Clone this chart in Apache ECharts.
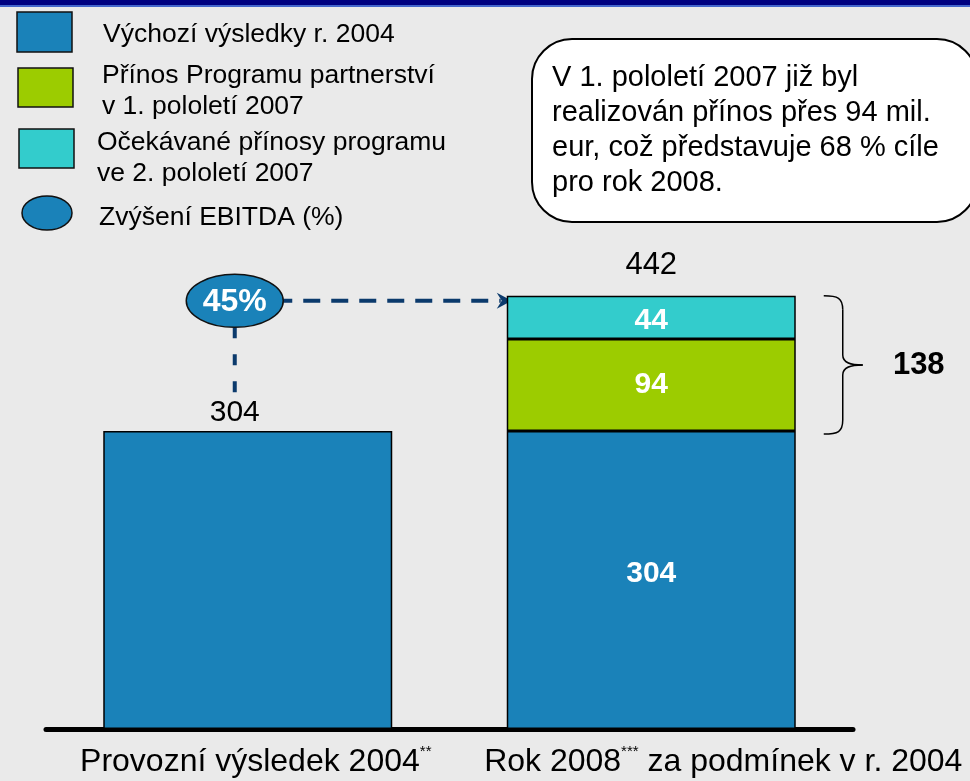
<!DOCTYPE html>
<html>
<head>
<meta charset="utf-8">
<script src="https://cdn.jsdelivr.net/npm/echarts@6/dist/echarts.min.js"></script>
<style>
    html, body { margin: 0; padding: 0; background: #eaeaea; }
    #chart { width: 970px; height: 781px; }
</style>
</head>
<body>
<div id="chart"></div>
<script>
// data
const categories = ['Provozní výsledek 2004**', 'Rok 2008*** za podmínek v r. 2004'];
const baseResult = [304, 304];
const gainFirstHalf = ['-', 94];
const gainSecondHalf = ['-', 44];
const ebitdaIncrease = 45;
const seriesNames = [
    'Výchozí výsledky r. 2004',
    'Přínos Programu partnerství\nv 1. pololetí 2007',
    'Očekávané přínosy programu\nve 2. pololetí 2007'
];
const ellipseLegend = 'Zvýšení EBITDA (%)';
const noteLines = [
    'V 1. pololetí 2007 již byl',
    'realizován přínos přes 94 mil.',
    'eur, což představuje 68 % cíle',
    'pro rok 2008.'
];

const colors = ['#1a82b9', '#9ccc00', '#33cccc'];
const navy = '#0b3a6c';
const font = '"Liberation Sans", Arial, sans-serif';
const barWidth = 289;

const totals = baseResult.map((v, i) =>
    [v, gainFirstHalf[i], gainSecondHalf[i]].reduce((s, x) => s + (x === '-' ? 0 : x), 0));
const totalGain = totals[1] - baseResult[1];

const chart = echarts.init(document.getElementById('chart'), null, {renderer: 'canvas'});

const valueLabel = (dy) => ({
    show: true,
    position: 'inside',
    offset: [0, dy],
    color: '#fff',
    fontWeight: 'bold',
    fontSize: 30,
    fontFamily: font
});
const barItem = (c) => ({color: c, borderColor: '#000', borderWidth: 1.5});

function axisLabelText(value, index) {
    let s = value.replace(/(\*+)/, '}{s|$1}{t|');
    s = '{t|' + s + '}';
    s = (index === 1 ? '{pad| }' : '{pad0| }') + s;
    return s;
}

chart.setOption({
    backgroundColor: '#eaeaea',
    animation: false,
    grid: {left: 46, right: 117, top: 239, bottom: 52},
    xAxis: {
        type: 'category',
        data: categories,
        axisLine: {lineStyle: {color: '#000', width: 5, cap: 'round'}},
        axisTick: {show: false},
        axisLabel: {
            interval: 0,
            margin: 15,
            formatter: axisLabelText,
            rich: {
                t: {fontSize: 32, fontFamily: font, color: '#000', lineHeight: 36},
                s: {fontSize: 15, fontFamily: font, color: '#000', verticalAlign: 'top', lineHeight: 12},
                pad: {width: 144, fontSize: 32},
                pad0: {width: 16, fontSize: 32}
            }
        }
    },
    yAxis: {
        type: 'value',
        min: 0,
        max: 500,
        show: false
    },
    series: [
        {
            name: seriesNames[0],
            type: 'bar',
            stack: 'total',
            barWidth: barWidth,
            itemStyle: barItem(colors[0]),
            data: baseResult.map((v, i) => i === 0 ? {
                value: v,
                label: {
                    show: true, position: 'top', distance: 3, offset: [-13, 0],
                    color: '#000', fontWeight: 'normal', fontSize: 30, fontFamily: font
                }
            } : {value: v, label: valueLabel(-6)})
        },
        {
            name: seriesNames[1],
            type: 'bar',
            stack: 'total',
            barWidth: barWidth,
            itemStyle: barItem(colors[1]),
            label: valueLabel(0),
            data: gainFirstHalf
        },
        {
            name: seriesNames[2],
            type: 'bar',
            stack: 'total',
            barWidth: barWidth,
            itemStyle: barItem(colors[2]),
            label: valueLabel(3),
            data: gainSecondHalf
        },
        {
            name: 'celkem',
            type: 'bar',
            stack: 'total',
            barWidth: barWidth,
            itemStyle: {color: 'transparent'},
            label: {
                show: true, position: 'top', distance: 15,
                color: '#000', fontSize: 31, fontFamily: font,
                formatter: p => totals[p.dataIndex]
            },
            data: ['-', 0]
        }
    ]
});

// overlay: legend, note, ellipse with dashed links, brace
const p0 = chart.convertToPixel({gridIndex: 0}, [0, totals[1]]);
const p1 = chart.convertToPixel({gridIndex: 0}, [1, totals[1]]);
const bar1Top = chart.convertToPixel({gridIndex: 0}, [0, baseResult[0]])[1];
const base2Top = chart.convertToPixel({gridIndex: 0}, [1, baseResult[1]])[1];

const cx = p0[0] - 13, cy = p0[1] + 5, rx = 48.5, ry = 26.5;
const bar2Left = p1[0] - barWidth / 2;
const bar2Right = p1[0] + barWidth / 2;

const bx0 = bar2Right + 28, bx1 = bx0 + 19, bx2 = bx0 + 39;
const byT = p1[1], byB = base2Top + 3, byM = (byT + byB) / 2;
const braceStyle = {stroke: '#000', lineWidth: 1.5, fill: null};
const braceParts = [
    {type: 'bezierCurve', shape: {x1: bx0, y1: byT, cpx1: bx0 + 14, cpy1: byT, cpx2: bx1, cpy2: byT + 2, x2: bx1, y2: byT + 14}},
    {type: 'line', shape: {x1: bx1, y1: byT + 14, x2: bx1, y2: byM - 10}},
    {type: 'bezierCurve', shape: {x1: bx1, y1: byM - 10, cpx1: bx1, cpy1: byM - 2, cpx2: bx1 + 8, cpy2: byM, x2: bx2, y2: byM}},
    {type: 'bezierCurve', shape: {x1: bx2, y1: byM, cpx1: bx1 + 8, cpy1: byM, cpx2: bx1, cpy2: byM + 2, x2: bx1, y2: byM + 10}},
    {type: 'line', shape: {x1: bx1, y1: byM + 10, x2: bx1, y2: byB - 14}},
    {type: 'bezierCurve', shape: {x1: bx1, y1: byB - 14, cpx1: bx1, cpy1: byB - 2, cpx2: bx0 + 14, cpy2: byB, x2: bx0, y2: byB}}
].map(p => Object.assign(p, {style: braceStyle}));

const legendBoxes = [[17, 12, 55, 40], [18, 68, 55, 39], [19, 129, 55, 39]];
const legendText = [[103, 35], [102, 91.5], [97, 158]];

const graphic = [
    {type: 'rect', shape: {x: 0, y: 0, width: 970, height: 5}, style: {fill: '#000080'}, z: 10},
    {type: 'rect', shape: {x: 0, y: 5, width: 970, height: 2}, style: {fill: '#4466cc'}, z: 10},
    {
        type: 'rect',
        shape: {x: 532, y: 39, width: 445, height: 183, r: 40},
        style: {fill: '#fff', stroke: '#000', lineWidth: 2}
    },
    {
        type: 'text', x: 552, y: 130.5,
        style: {
            text: noteLines.join('\n'), font: '29px ' + font, fill: '#000',
            lineHeight: 35, verticalAlign: 'middle', align: 'left'
        }
    },
    {
        type: 'ellipse', shape: {cx: 47, cy: 213, rx: 25, ry: 17},
        style: {fill: colors[0], stroke: '#111', lineWidth: 1.5}
    },
    {
        type: 'text', x: 99, y: 218,
        style: {text: ellipseLegend, font: '26.5px ' + font, fill: '#000', verticalAlign: 'middle'}
    },
    // link lines
    {
        type: 'line',
        shape: {x1: cx + rx, y1: cy, x2: bar2Left - 6, y2: cy},
        style: {stroke: navy, lineWidth: 4, lineDash: [17, 11], lineDashOffset: 8}
    },
    {
        type: 'polygon',
        shape: {points: [[bar2Left + 5, cy], [bar2Left - 10, cy - 8], [bar2Left - 5, cy], [bar2Left - 10, cy + 8]]},
        style: {fill: navy}
    },
    {
        type: 'line',
        shape: {x1: cx, y1: cy + ry, x2: cx, y2: bar1Top - 36},
        style: {stroke: navy, lineWidth: 4, lineDash: [11, 16]}
    },
    {
        type: 'ellipse', shape: {cx: cx, cy: cy, rx: rx, ry: ry},
        style: {fill: colors[0], stroke: '#111', lineWidth: 1.5}
    },
    {
        type: 'text', x: cx, y: cy + 1,
        style: {
            text: ebitdaIncrease + '%', font: 'bold 32px ' + font, fill: '#fff',
            align: 'center', verticalAlign: 'middle'
        }
    },
    ...braceParts,
    {
        type: 'text', x: bx2 + 56, y: byM,
        style: {
            text: String(totalGain), font: 'bold 31px ' + font, fill: '#000',
            align: 'center', verticalAlign: 'middle'
        }
    }
];

seriesNames.forEach((name, i) => {
    const [x, y, w, h] = legendBoxes[i];
    graphic.push({
        type: 'rect', shape: {x: x, y: y, width: w, height: h},
        style: {fill: colors[i], stroke: '#111', lineWidth: 1.5}
    });
    graphic.push({
        type: 'text', x: legendText[i][0], y: legendText[i][1],
        style: {
            text: name, font: '26.5px ' + font, fill: '#000',
            lineHeight: 31, verticalAlign: 'middle'
        }
    });
});

chart.setOption({graphic: graphic});
</script>
</body>
</html>
